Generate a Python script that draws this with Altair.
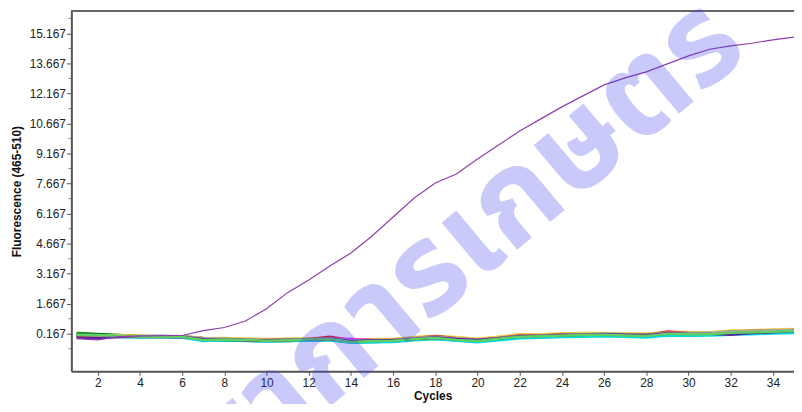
import altair as alt
import pandas as pd

cycles = list(range(1, 36))

amplified = [-0.08, -0.14, 0.02, 0.05, 0.07, 0.08, 0.32, 0.48, 0.80, 1.42, 2.22, 2.85, 3.55, 4.20, 5.05,
             6.00, 6.95, 7.70, 8.15, 8.90, 9.60, 10.30, 10.90, 11.50, 12.05, 12.60, 12.95, 13.25, 13.65,
             14.05, 14.38, 14.55, 14.68, 14.85, 14.98]

baseline_names = ["S1", "S2", "S3", "S4", "S5", "S6", "S7", "S8", "S9", "S10", "S11", "S12"]
baseline_colors = ["#009a00", "#006a30", "#ff9a20", "#e8d040", "#e02020", "#ff20ff",
                   "#111111", "#00d8e0", "#a04010", "#a8a8a8", "#6020a0", "#60d060"]

s1 = [0.20,0.16,0.10,0.06,0.05,0.04,-0.05,-0.08,-0.12,-0.15,-0.13,-0.10,-0.08,-0.22,-0.20,-0.14,-0.06,0.00,-0.12,-0.18,-0.05,0.04,0.05,0.08,0.10,0.12,0.10,0.08,0.16,0.14,0.15,0.20,0.24,0.26,0.30]
s2 = [0.16,0.14,0.08,0.03,0.02,0.00,-0.16,-0.14,-0.18,-0.21,-0.20,-0.16,-0.14,-0.26,-0.24,-0.22,-0.12,-0.08,-0.16,-0.20,-0.12,-0.02,0.00,0.04,0.06,0.08,0.06,0.04,0.12,0.10,0.12,0.16,0.18,0.22,0.26]
s3 = [0.08,0.05,0.10,0.06,0.04,0.03,-0.04,-0.06,-0.10,-0.12,-0.10,-0.08,-0.06,-0.15,-0.14,-0.12,-0.02,0.04,-0.04,-0.10,0.00,0.10,0.12,0.16,0.18,0.18,0.16,0.14,0.26,0.24,0.22,0.30,0.33,0.36,0.38]
s4 = [0.06,0.04,0.08,0.04,0.03,0.02,-0.06,-0.05,-0.08,-0.10,-0.08,-0.07,-0.05,-0.12,-0.10,-0.10,0.00,0.06,0.00,-0.08,0.02,0.14,0.14,0.18,0.20,0.20,0.18,0.18,0.24,0.26,0.24,0.32,0.34,0.38,0.40]
s5 = [0.05,0.03,0.02,0.00,0.02,0.00,-0.08,-0.10,-0.14,-0.15,-0.12,-0.10,0.02,-0.14,-0.16,-0.15,-0.06,0.06,-0.06,-0.14,-0.04,0.08,0.08,0.14,0.12,0.16,0.10,0.08,0.28,0.20,0.16,0.28,0.30,0.32,0.35]
s6 = [0.02,0.00,0.03,0.04,0.04,-0.02,-0.12,-0.12,-0.15,-0.17,-0.15,-0.13,-0.08,-0.10,-0.14,-0.18,-0.10,-0.04,-0.10,-0.16,-0.08,0.03,0.04,0.08,0.10,0.12,0.10,0.08,0.18,0.16,0.16,0.22,0.20,0.28,0.30]
s7 = [0.08,0.06,0.04,0.00,0.02,0.00,-0.12,-0.16,-0.18,-0.18,-0.16,-0.14,-0.12,-0.22,-0.20,-0.20,-0.12,-0.06,-0.14,-0.18,-0.10,0.00,0.02,0.06,0.08,0.10,0.08,0.06,0.14,0.12,0.14,0.20,0.22,0.25,0.28]
s8 = [0.04,0.02,0.00,-0.02,0.00,-0.02,-0.20,-0.16,-0.20,-0.22,-0.20,-0.18,-0.16,-0.28,-0.26,-0.24,-0.16,-0.10,-0.18,-0.26,-0.16,-0.06,-0.04,0.00,0.02,0.04,0.02,-0.02,0.08,0.06,0.08,0.12,0.14,0.18,0.20]
s9 = [0.06,0.05,0.02,0.01,0.03,0.03,-0.10,-0.12,-0.16,-0.18,-0.16,-0.12,-0.10,-0.18,-0.16,-0.14,-0.10,-0.04,-0.08,-0.14,-0.06,0.04,0.06,0.10,0.12,0.14,0.12,0.10,0.18,0.16,0.18,0.24,0.26,0.28,0.34]
s10 = [0.10,0.08,0.05,0.03,0.05,0.03,-0.06,-0.08,-0.12,-0.14,-0.12,-0.10,-0.08,-0.16,-0.14,-0.14,-0.04,0.02,-0.06,-0.12,-0.04,0.06,0.08,0.12,0.14,0.18,0.14,0.12,0.22,0.20,0.20,0.28,0.30,0.34,0.36]
s11 = [-0.04,-0.06,0.00,0.02,0.02,0.00,-0.10,-0.12,-0.15,-0.16,-0.14,-0.12,-0.10,-0.20,-0.16,-0.16,-0.08,-0.02,-0.10,-0.15,-0.06,0.04,0.06,0.10,0.12,0.14,0.12,0.10,0.18,0.16,0.16,0.12,0.20,0.24,0.30]
s12 = [0.12,0.10,0.06,0.02,0.03,0.01,-0.14,-0.12,-0.14,-0.18,-0.16,-0.12,-0.10,-0.24,-0.20,-0.18,-0.10,-0.04,-0.14,-0.20,-0.08,0.02,0.04,0.08,0.10,0.12,0.08,0.06,0.16,0.14,0.14,0.22,0.24,0.27,0.30]
baseline_values = [s1, s2, s3, s4, s5, s6, s7, s8, s9, s10, s11, s12]

x_ticks = [2, 4, 6, 8, 10, 12, 14, 16, 18, 20, 22, 24, 26, 28, 30, 32, 34]
y_major = [0.167, 1.667, 3.167, 4.667, 6.167, 7.667, 9.167, 10.667, 12.167, 13.667, 15.167]
y_minor = [-0.583, 0.917, 2.417, 3.917, 5.417, 6.917, 8.417, 9.917, 11.417, 12.917, 14.417, 15.917]
watermark = ["กรมวิชาการเกษตร"]

rows = []
for name, vals in zip(baseline_names, baseline_values):
    for c, v in zip(cycles, vals):
        rows.append({"cycle": c, "value": v, "series": name})
base_df = pd.DataFrame(rows)
amp_df = pd.DataFrame({"cycle": cycles, "value": amplified})
minor_df = pd.DataFrame({"cycle": [1] * len(y_minor), "value": y_minor})
wm_df = pd.DataFrame({"t": watermark})

W, H = 730, 364
FONT = "Liberation Sans"

x_scale = alt.Scale(domain=[0.75, 35], nice=False, zero=False)
y_scale = alt.Scale(domain=[-1.71, 16.29], nice=False, zero=False)

x_axis = alt.Axis(values=x_ticks, title="Cycles", grid=False, labelFont=FONT, labelFontSize=12,
                  labelColor="#222", titleFont=FONT, titleFontSize=12, titleFontWeight="bold",
                  titleColor="#111", tickSize=4, tickColor="#555", labelPadding=2, titlePadding=2,
                  domainColor="#555", domainWidth=2, labelFlush=False)
y_axis = alt.Axis(values=y_major, format=".3f", title="Fluorescence (465-510)", grid=False,
                  tickSize=5, labelFont=FONT, labelFontSize=12, labelColor="#222", titleFont=FONT,
                  titleFontSize=12, titleFontWeight="bold", titleColor="#111", tickColor="#555",
                  labelPadding=1, titlePadding=6, domainColor="#555", domainWidth=2, labelFlush=False)

X = alt.X("cycle:Q", scale=x_scale, axis=x_axis)
Y = alt.Y("value:Q", scale=y_scale, axis=y_axis)

baselines = alt.Chart(base_df).mark_line(strokeWidth=2.5).encode(
    x=X, y=Y,
    color=alt.Color("series:N", scale=alt.Scale(domain=baseline_names, range=baseline_colors), legend=None),
    detail="series:N",
)

amp = alt.Chart(amp_df).mark_line(strokeWidth=1.2, color="#8e3fae").encode(x=X, y=Y)

minor_ticks = alt.Chart(minor_df).mark_tick(orient="horizontal", size=3, thickness=1, color="#555").encode(
    y=Y, x=alt.value(-1.5),
)

top_rule = alt.Chart(amp_df).mark_rule(color="#666", strokeWidth=2).encode(
    x=alt.value(0), x2=alt.value(W), y=alt.value(0)
)

wm = alt.Chart(wm_df).mark_text(
    angle=320, fontSize=128, fontWeight="bold", font="Noto Sans Thai", color="#3c3cf0",
    opacity=0.27, align="right", baseline="middle"
).encode(text="t:N", x=alt.value(662), y=alt.value(14))

chart = alt.layer(baselines, amp, minor_ticks, top_rule, wm).properties(
    width=W, height=H,
    autosize=alt.AutoSizeParams(type="none"),
    padding={"left": 64, "top": 1, "right": 0, "bottom": 31},
).configure_view(stroke=None).configure(background="white")

chart.save("out.html", embed_options={"renderer": "svg", "actions": False})
